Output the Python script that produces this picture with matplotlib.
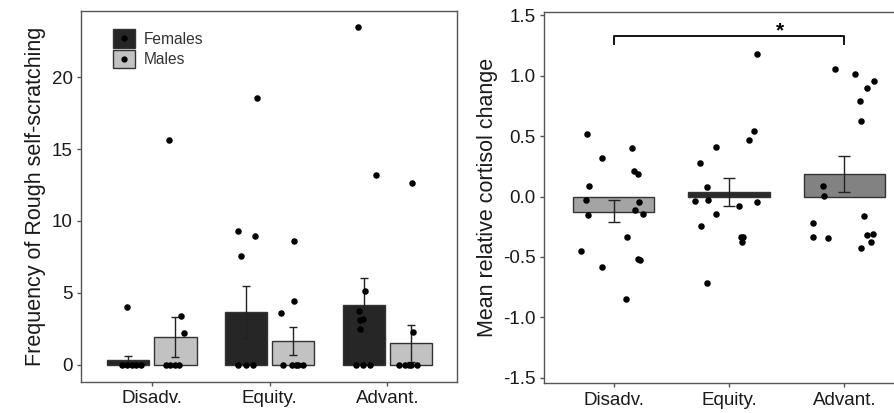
import matplotlib
matplotlib.use("Agg")
import matplotlib.pyplot as plt
from matplotlib.patches import Patch
from matplotlib.lines import Line2D
import numpy as np

plt.rcParams['font.family'] = ['Liberation Sans', 'DejaVu Sans']

# ---------------- Data: left panel ----------------
conditions = ["Disadv.", "Equity.", "Advant."]
sexes = ["Females", "Males"]
female_means = [0.35, 3.69, 4.18]
female_err_lo = [0.07, 1.88, 2.27]
female_err_hi = [0.63, 5.48, 6.06]
male_means = [1.90, 1.62, 1.50]
male_err_lo = [0.51, 0.70, 0.18]
male_err_hi = [3.32, 2.60, 2.79]

# individual points: (x offset from group centre, value)
female_pts_dx = [
    [-0.21, -0.25, -0.21, -0.17, -0.13, -0.09],
    [-0.11, -0.27, -0.12, -0.24, -0.27, -0.20, -0.14],
    [-0.25, -0.10, -0.19, -0.24, -0.235, -0.21, -0.23, -0.27, -0.21, -0.15],
]
female_pts_val = [
    [4.0, 0, 0, 0, 0, 0],
    [18.56, 9.31, 8.94, 7.53, 0, 0, 0],
    [23.48, 13.21, 5.10, 3.74, 3.10, 3.20, 2.46, 0, 0, 0],
]
male_pts_dx = [
    [0.147, 0.25, 0.27, 0.12, 0.155, 0.20, 0.23],
    [0.21, 0.21, 0.10, 0.11, 0.19, 0.22, 0.24, 0.28],
    [0.21, 0.22, 0.10, 0.15, 0.18, 0.20, 0.25],
]
male_pts_val = [
    [15.6, 3.4, 2.2, 0, 0, 0, 0],
    [8.59, 4.46, 3.62, 0, 0, 0, 0, 0],
    [12.66, 2.25, 0, 0, 0, 0, 0],
]

# ---------------- Data: right panel ----------------
cort_means = [-0.124, 0.041, 0.188]
cort_err_lo = [-0.207, -0.080, 0.041]
cort_err_hi = [-0.027, 0.152, 0.337]
cort_pts_dx = [
    [-0.23, -0.10, -0.21, -0.24, -0.22, -0.28, -0.10, 0.107, 0.159, 0.176, 0.214,
     0.222, 0.188, 0.251, 0.115, 0.208, 0.225],
    [-0.251, -0.188, -0.294, -0.179, -0.115, -0.242, -0.188, -0.115, 0.170, 0.216,
     0.245, 0.084, 0.245, 0.104, 0.121, 0.110],
    [-0.182, -0.173, -0.271, -0.271, -0.139, -0.084, 0.095, 0.193, 0.257, 0.133,
     0.147, 0.167, 0.193, 0.251, 0.228, 0.147],
]
cort_pts_val = [
    [0.516, 0.317, 0.085, -0.028, -0.149, -0.449, -0.587, -0.846, 0.405, 0.215, 0.190,
     -0.044, -0.110, -0.141, -0.336, -0.513, -0.527],
    [0.276, 0.077, -0.036, -0.028, -0.146, -0.243, -0.717, 0.414, 0.466, 0.543,
     1.180, -0.080, -0.044, -0.336, -0.336, -0.378],
    [0.085, 0.008, -0.218, -0.331, -0.347, 1.059, 1.017, 0.896, 0.957, 0.791,
     0.629, -0.157, -0.320, -0.312, -0.375, -0.427],
]
cort_colors = ["#a4a4a4", "#2b2b2b", "#828282"]

# ---------------- Figure ----------------
fig = plt.figure(figsize=(8.94, 4.13), dpi=100)
spine_col = "#555555"

ax1 = fig.add_axes([81 / 894, 1 - 382 / 413, (457 - 81) / 894, (382 - 11) / 413])
ax2 = fig.add_axes([544.3 / 894, 1 - 383.3 / 413, (913.6 - 544.3) / 894, (383.3 - 11.7) / 413])

x = np.arange(1, 4)
dodge = 0.2
bw = 0.36
fcol = "#262626"
mcol = "#c2c2c2"
edge = "#333333"

for i, xc in enumerate(x):
    ax1.bar(xc - dodge, female_means[i], width=bw, color=fcol, edgecolor=edge, linewidth=1, zorder=2)
    ax1.bar(xc + dodge, male_means[i], width=bw, color=mcol, edgecolor=edge, linewidth=1, zorder=2)
    ax1.errorbar(xc - dodge, female_means[i],
                 yerr=[[female_means[i] - female_err_lo[i]], [female_err_hi[i] - female_means[i]]],
                 fmt='none', ecolor="#222222", elinewidth=1, capsize=3, capthick=1, zorder=3)
    ax1.errorbar(xc + dodge, male_means[i],
                 yerr=[[male_means[i] - male_err_lo[i]], [male_err_hi[i] - male_means[i]]],
                 fmt='none', ecolor="#222222", elinewidth=1, capsize=3, capthick=1, zorder=3)
    ax1.scatter(xc + np.array(female_pts_dx[i]), female_pts_val[i], s=22, color="black", zorder=4, linewidths=0)
    ax1.scatter(xc + np.array(male_pts_dx[i]), male_pts_val[i], s=22, color="black", zorder=4, linewidths=0)

ax1.set_xlim(0.4, 3.59)
ax1.set_ylim(-1.2, 24.6)
ax1.set_yticks([0, 5, 10, 15, 20])
ax1.set_xticks(x)
ax1.set_xticklabels(conditions)
ax1.set_ylabel("Frequency of Rough self-scratching", fontsize=15.5, color="#1a1a1a", labelpad=4)

handles = [
    Patch(facecolor=fcol, edgecolor=edge),
    Patch(facecolor=mcol, edgecolor=edge),
]
leg = ax1.legend(handles, sexes, loc="upper left", bbox_to_anchor=(0.084, 0.951), frameon=False,
                 fontsize=11.2, handlelength=1.45, handleheight=1.45, handletextpad=0.55,
                 labelspacing=0.15, borderaxespad=0, borderpad=0)
for t in leg.get_texts():
    t.set_color("#333333")

# ---- right panel ----
for i, xc in enumerate(x):
    ax2.bar(xc, cort_means[i], width=0.707, color=cort_colors[i], edgecolor=edge, linewidth=1, zorder=2)
    ax2.errorbar(xc, cort_means[i],
                 yerr=[[cort_means[i] - cort_err_lo[i]], [cort_err_hi[i] - cort_means[i]]],
                 fmt='none', ecolor="#222222", elinewidth=1, capsize=4, capthick=1, zorder=3)
    ax2.scatter(xc + np.array(cort_pts_dx[i]), cort_pts_val[i], s=22, color="black", zorder=4, linewidths=0)

ax2.plot([1, 1, 3, 3], [1.26, 1.332, 1.332, 1.26], color="black", linewidth=1.3)
ax2.text(2.44, 1.37, "*", ha="center", va="center", fontsize=15, fontweight="bold")

ax2.set_xlim(0.4, 3.6)
ax2.set_ylim(-1.546, 1.53)
ax2.set_yticks([-1.5, -1.0, -0.5, 0.0, 0.5, 1.0, 1.5])
ax2.set_yticklabels(["-1.5", "-1.0", "-0.5", "0.0", "0.5", "1.0", "1.5"])
ax2.set_xticks(x)
ax2.set_xticklabels(conditions)
ax2.set_ylabel("Mean relative cortisol change", fontsize=15.5, color="#1a1a1a", labelpad=4)

for ax in (ax1, ax2):
    for s in ax.spines.values():
        s.set_color(spine_col)
        s.set_linewidth(1.0)
    ax.tick_params(axis="both", direction="out", length=3, width=1, color=spine_col,
                   labelsize=13.5, labelcolor="#1a1a1a", pad=3)

fig.canvas.draw()
# draw dots in legend keys
for p in leg.get_patches():
    bb = p.get_window_extent()
    cx, cy = (bb.x0 + bb.x1) / 2, (bb.y0 + bb.y1) / 2
    fx, fy = fig.transFigure.inverted().transform((cx, cy))
    fig.add_artist(Line2D([fx], [fy], marker="o", markersize=3.5, color="black",
                          linestyle="none", transform=fig.transFigure))

fig.savefig("out.png", dpi=100)
